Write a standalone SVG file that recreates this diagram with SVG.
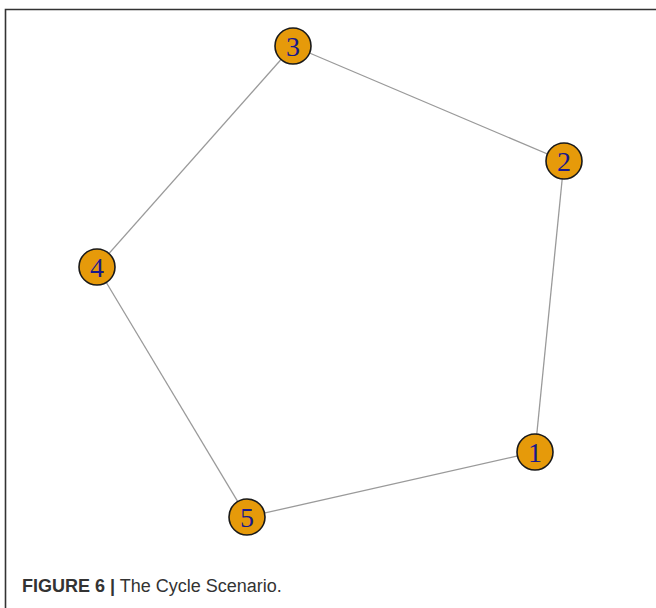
<svg xmlns="http://www.w3.org/2000/svg" width="656" height="608" viewBox="0 0 656 608">
  <style>
    .frame { fill: none; stroke: #333; stroke-width: 1.6; }
    .edge { stroke: #9a9a9a; stroke-width: 1.3; fill: none; }
    .node circle { fill: #E69A0A; stroke: #1a1a1a; stroke-width: 1.6; }
    .node text { font-family: "Liberation Serif", "Times New Roman", serif; font-size: 28px; fill: #18188a; text-anchor: middle; }
    .caption { font-family: "Liberation Sans", Arial, sans-serif; font-size: 18px; fill: #333; }
    .caption .bold { font-weight: bold; }
  </style>
  <rect width="656" height="608" fill="#fff"/>
  <!-- panel border: top and left edges -->
  <path class="frame" d="M5.5,608 V9.5 H656"/>

  <g id="edges">
    <line class="edge" x1="293" y1="46" x2="564" y2="161"/>
    <line class="edge" x1="564" y1="161" x2="535" y2="452"/>
    <line class="edge" x1="535" y1="452" x2="247" y2="517"/>
    <line class="edge" x1="247" y1="517" x2="97" y2="267"/>
    <line class="edge" x1="97" y1="267" x2="293" y2="46"/>
  </g>

  <g id="node1" class="node"><circle cx="535" cy="452" r="18"/><text x="535" y="462">1</text></g>
  <g id="node2" class="node"><circle cx="564" cy="161" r="18"/><text x="564" y="171">2</text></g>
  <g id="node3" class="node"><circle cx="293" cy="46" r="18"/><text x="293" y="56">3</text></g>
  <g id="node4" class="node"><circle cx="97" cy="267" r="18"/><text x="97" y="277">4</text></g>
  <g id="node5" class="node"><circle cx="247" cy="517" r="18"/><text x="247" y="527">5</text></g>

  <text class="caption" x="22" y="592"><tspan class="bold">FIGURE 6 |</tspan> The Cycle Scenario.</text>
</svg>
